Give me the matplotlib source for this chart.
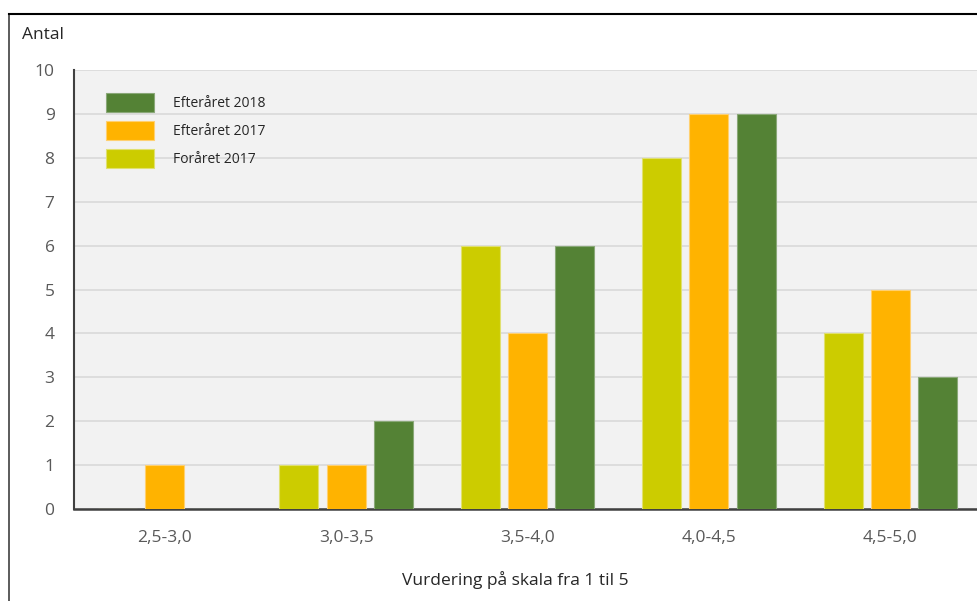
import matplotlib
matplotlib.use("Agg")
import matplotlib.pyplot as plt
import numpy as np
from matplotlib.lines import Line2D

categories = ["2,5-3,0", "3,0-3,5", "3,5-4,0", "4,0-4,5", "4,5-5,0"]
foraaret_2017 = [0, 1, 6, 8, 4]
efteraaret_2017 = [1, 1, 4, 9, 5]
efteraaret_2018 = [0, 2, 6, 9, 3]
series_names = ["Foråret 2017", "Efteråret 2017", "Efteråret 2018"]
yticks = list(range(0, 11))

plt.rcParams['font.family'] = ['Open Sans', 'DejaVu Sans']

W, H = 977, 601
fig = plt.figure(figsize=(W / 100, H / 100), dpi=100)

# outer frame (left and top lines)
fig.add_artist(Line2D([9 / W, 9 / W], [0, 1 - 14 / H], color="#404040", lw=1.2))
fig.add_artist(Line2D([9 / W, 1], [1 - 14 / H, 1 - 14 / H], color="black", lw=1.5))

left, right = 74 / W, 981 / W
bottom, top = 1 - 509 / H, 1 - 70 / H
ax = fig.add_axes([left, bottom, right - left, top - bottom])
ax.set_facecolor("#F2F2F2")

x = np.arange(len(categories))
w = 0.215
off = 0.26
colors = ["#CCCC00", "#FFB300", "#548235"]
edges = ["#E0E070", "#FFD070", "#8AA878"]
for i, (vals, c, e, name) in enumerate(zip([foraaret_2017, efteraaret_2017, efteraaret_2018],
                                           colors, edges, series_names)):
    ax.bar(x + (i - 1) * off, vals, width=w, color=c, edgecolor=e, linewidth=0.8,
           label=name, zorder=3)

ax.set_xlim(-0.5, 4.5)
ax.set_ylim(0, 10)
ax.set_yticks(yticks)
ax.set_yticklabels([str(t) for t in yticks], fontsize=12.5, color="#595959")
ax.set_xticks(x)
ax.set_xticklabels(categories, fontsize=12.5, color="#595959")
ax.tick_params(axis="both", length=0)
ax.tick_params(axis="y", pad=14)
ax.tick_params(axis="x", pad=15)
ax.grid(axis="y", color="#D9D9D9", lw=1.2, zorder=0)
ax.set_axisbelow(True)
for s in ["top", "right"]:
    ax.spines[s].set_visible(False)
ax.spines["left"].set_color("#404040")
ax.spines["left"].set_linewidth(1.5)
ax.spines["bottom"].set_color("#404040")
ax.spines["bottom"].set_linewidth(1.8)

handles, labels = ax.get_legend_handles_labels()
leg = ax.legend(handles[::-1], labels[::-1], loc="upper left",
                bbox_to_anchor=(0.022, 0.977), frameon=False, fontsize=10,
                handlelength=3.4, handleheight=1.75, labelspacing=0.65,
                handletextpad=1.4)
for t in leg.get_texts():
    t.set_color("#262626")

fig.text(22 / W, 1 - 35 / H, "Antal", fontsize=12.5, color="#262626",
         ha="left", va="center")
fig.text(515 / W, 1 - 580 / H, "Vurdering på skala fra 1 til 5", fontsize=12.5,
         color="#262626", ha="center", va="center")

fig.savefig("out.png", dpi=100)
